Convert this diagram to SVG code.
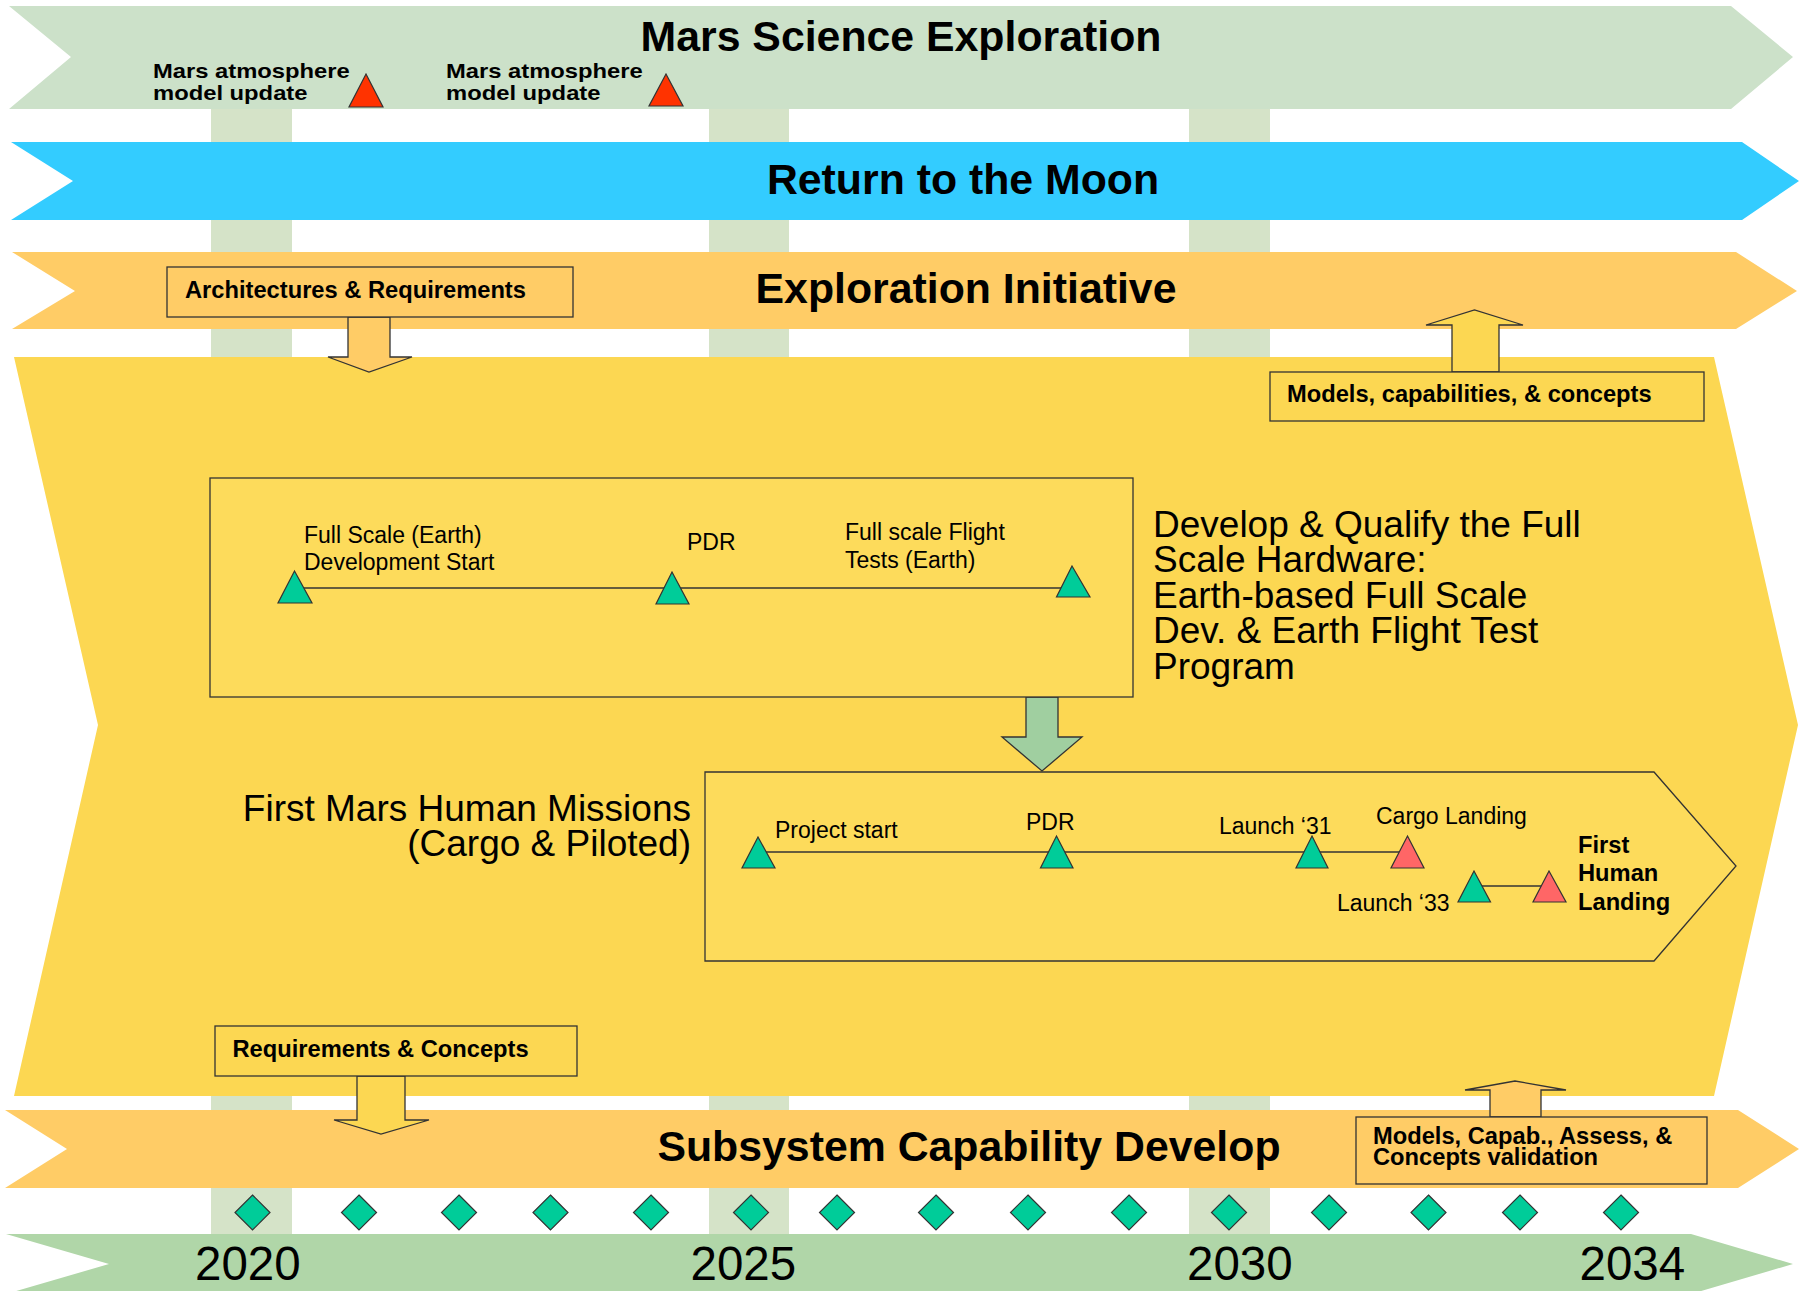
<svg xmlns="http://www.w3.org/2000/svg" width="1799" height="1291" viewBox="0 0 1799 1291">
<style>
.t{font-family:"Liberation Sans",Arial,sans-serif;fill:#000}
.title{font-size:42.8px;font-weight:bold;text-anchor:middle}
.lb{font-size:23.7px;font-weight:bold}
.ma{font-size:20.5px;font-weight:bold}
.lr{font-size:23px}
.big{font-size:37px}
.yr{font-size:47.5px}
.box{stroke:#333;stroke-width:1.3}
.gtri{fill:#00cc99;stroke:#333;stroke-width:1.2}
.rtri{fill:#ff3300;stroke:#333;stroke-width:1.2}
.ptri{fill:#ff6666;stroke:#333;stroke-width:1.2}
.dia{fill:#00cc99;stroke:#333;stroke-width:1.2}
.tl{stroke:#333;stroke-width:1.5;fill:none}
.stripe{fill:#d5e3c8}
</style>
<rect width="1799" height="1291" fill="#ffffff"/>
<g id="stripes">
<rect class="stripe" x="211" y="100" width="81" height="1140"/>
<rect class="stripe" x="709" y="100" width="80" height="1140"/>
<rect class="stripe" x="1189" y="100" width="81" height="1140"/>
</g>
<g id="band-mars-science">
<polygon points="9,6 1731,6 1793,57 1731,109 9,109 71,57" fill="#cce1c9"/>
<text class="t title" x="901" y="51">Mars Science Exploration</text>
<text class="t ma" transform="translate(153,77.5) scale(1.16,1)">Mars atmosphere</text>
<text class="t ma" transform="translate(153,100) scale(1.16,1)">model update</text>
<polygon class="rtri" points="366,74 383,107 349,107"/>
<text class="t ma" transform="translate(446,77.5) scale(1.16,1)">Mars atmosphere</text>
<text class="t ma" transform="translate(446,100) scale(1.16,1)">model update</text>
<polygon class="rtri" points="666,74 683,106 649,106"/>
</g>
<g id="band-moon">
<polygon points="11,142 1742,142 1799,181 1742,220 11,220 73,181" fill="#33ccff"/>
<text class="t title" x="963" y="194">Return to the Moon</text>
</g>
<g id="band-exploration">
<polygon points="12,252 1736,252 1797,291 1736,329 12,329 75,291" fill="#ffcc66"/>
<text class="t title" x="966" y="303">Exploration Initiative</text>
</g>
<g id="program-area">
<polygon points="14,357 1714,357 1798,725 1714,1096 14,1096 98,725" fill="#fcd752"/>
</g>
<g id="band-subsystem">
<polygon points="5,1110 1738,1110 1799,1149 1738,1188 5,1188 67,1149" fill="#ffcc66"/>
<text class="t title" x="969" y="1161">Subsystem Capability Develop</text>
</g>
<g id="band-years">
<polygon points="6,1234 1691,1234 1793,1264 1691,1294 6,1294 109,1264" fill="#b0d6a8"/>
<text class="t yr" x="195" y="1280">2020</text>
<text class="t yr" x="690.5" y="1280">2025</text>
<text class="t yr" x="1187" y="1280">2030</text>
<text class="t yr" x="1579.5" y="1280">2034</text>
</g>
<g id="connectors">
<polygon class="box" points="348,317 390,317 390,357 412,357 369,372 328,357 348,357" fill="#ffcc66"/>
<polygon class="box" points="1452,372 1452,325 1426,325 1474.5,310 1523,325 1499,325 1499,372" fill="#fcd752"/>
<polygon class="box" points="1026,697 1058,697 1058,737 1082,737 1042,771 1002,737 1026,737" fill="#a0cfa0"/>
<polygon class="box" points="357,1076 405,1076 405,1120 429,1120 381,1134 334,1120 357,1120" fill="#fcd752"/>
<polygon class="box" points="1490,1117 1490,1090 1465,1090 1515,1081 1566,1090 1541,1090 1541,1117" fill="#ffcc66"/>
</g>
<g id="box-architectures">
<rect class="box" x="167" y="267" width="406" height="50" fill="#ffcc66"/>
<text class="t lb" x="185" y="297.5">Architectures &amp; Requirements</text>
</g>
<g id="box-models">
<rect class="box" x="1270" y="372" width="434" height="49" fill="#fcd752"/>
<text class="t lb" x="1287" y="402">Models, capabilities, &amp; concepts</text>
</g>
<g id="box-develop">
<rect class="box" x="210" y="478" width="923" height="219" fill="#fddb5b"/>
<line class="tl" x1="294.5" y1="588" x2="1072" y2="588"/>
<polygon class="gtri" points="294.5,571 312,603 278,603"/>
<polygon class="gtri" points="672,572 689,604 656,604"/>
<polygon class="gtri" points="1072,566 1090,597 1056.5,597"/>
<text class="t lr" x="304" y="543">Full Scale (Earth)</text>
<text class="t lr" x="304" y="570">Development Start</text>
<text class="t lr" x="687" y="550">PDR</text>
<text class="t lr" x="845" y="540">Full scale Flight</text>
<text class="t lr" x="845" y="568">Tests (Earth)</text>
</g>
<g id="label-develop">
<text class="t big" x="1153" y="536.5">Develop &amp; Qualify the Full</text>
<text class="t big" x="1153" y="572">Scale Hardware:</text>
<text class="t big" x="1153" y="607.5">Earth-based Full Scale</text>
<text class="t big" x="1153" y="643">Dev. &amp; Earth Flight Test</text>
<text class="t big" x="1153" y="678.5">Program</text>
</g>
<g id="label-first-mars">
<text class="t big" x="691" y="820.5" text-anchor="end">First Mars Human Missions</text>
<text class="t big" x="691" y="856" text-anchor="end">(Cargo &amp; Piloted)</text>
</g>
<g id="box-missions">
<polygon class="box" points="705,772 1654,772 1736,866 1654,961 705,961" fill="#fddb5b"/>
<line class="tl" x1="758" y1="852" x2="1407" y2="852"/>
<line class="tl" x1="1474" y1="886" x2="1549" y2="886"/>
<polygon class="gtri" points="758,837 775,868 742,868"/>
<polygon class="gtri" points="1056.5,836 1073,868 1040.5,868"/>
<polygon class="gtri" points="1312,836 1328,868 1296,868"/>
<polygon class="ptri" points="1407.5,836 1424,868 1391,868"/>
<polygon class="gtri" points="1474,871 1490.5,902 1458,902"/>
<polygon class="ptri" points="1549,871 1566,902 1533,902"/>
<text class="t lr" x="775" y="838">Project start</text>
<text class="t lr" x="1026" y="830">PDR</text>
<text class="t lr" x="1219" y="834">Launch ‘31</text>
<text class="t lr" x="1376" y="824">Cargo Landing</text>
<text class="t lr" x="1337" y="911">Launch ‘33</text>
<text class="t lb" x="1578" y="853">First</text>
<text class="t lb" x="1578" y="881">Human</text>
<text class="t lb" x="1578" y="910">Landing</text>
</g>
<g id="box-requirements">
<rect class="box" x="215" y="1026" width="362" height="50" fill="#fcd752"/>
<text class="t lb" x="232.5" y="1057">Requirements &amp; Concepts</text>
</g>
<g id="box-models-capab">
<rect class="box" x="1356" y="1117" width="351" height="67" fill="#ffcc66"/>
<text class="t lb" x="1373" y="1144">Models, Capab., Assess, &amp;</text>
<text class="t lb" x="1373" y="1165">Concepts validation</text>
</g>
<g id="milestones">
<polygon class="dia" points="252.5,1195 270,1212.5 252.5,1230 235,1212.5"/>
<polygon class="dia" points="359,1195 376.5,1212.5 359,1230 341.5,1212.5"/>
<polygon class="dia" points="459,1195 476.5,1212.5 459,1230 441.5,1212.5"/>
<polygon class="dia" points="550.5,1195 568,1212.5 550.5,1230 533,1212.5"/>
<polygon class="dia" points="651,1195 668.5,1212.5 651,1230 633.5,1212.5"/>
<polygon class="dia" points="751,1195 768.5,1212.5 751,1230 733.5,1212.5"/>
<polygon class="dia" points="837,1195 854.5,1212.5 837,1230 819.5,1212.5"/>
<polygon class="dia" points="936,1195 953.5,1212.5 936,1230 918.5,1212.5"/>
<polygon class="dia" points="1028,1195 1045.5,1212.5 1028,1230 1010.5,1212.5"/>
<polygon class="dia" points="1129,1195 1146.5,1212.5 1129,1230 1111.5,1212.5"/>
<polygon class="dia" points="1229,1195 1246.5,1212.5 1229,1230 1211.5,1212.5"/>
<polygon class="dia" points="1329,1195 1346.5,1212.5 1329,1230 1311.5,1212.5"/>
<polygon class="dia" points="1428.5,1195 1446,1212.5 1428.5,1230 1411,1212.5"/>
<polygon class="dia" points="1520,1195 1537.5,1212.5 1520,1230 1502.5,1212.5"/>
<polygon class="dia" points="1621,1195 1638.5,1212.5 1621,1230 1603.5,1212.5"/>
</g>
</svg>
